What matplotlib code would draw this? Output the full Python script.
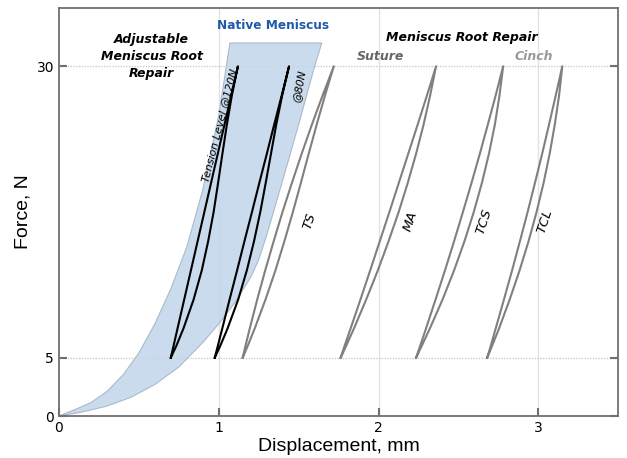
import matplotlib
matplotlib.use('Agg')
import matplotlib.pyplot as plt

# force levels at which loop branches were read
force = [5, 6, 7.5, 10, 12.5, 15, 17.5, 20, 22.5, 25, 27.5, 30]

# native meniscus band (upper/left and lower/right boundary)
band_upper_x = [0, 0.1, 0.2, 0.3, 0.4, 0.5, 0.6, 0.7, 0.8, 0.9, 1.0, 1.07]
band_upper_y = [0, 0.55, 1.15, 2.1, 3.5, 5.4, 7.9, 10.9, 14.5, 19.4, 25.8, 32]
band_lower_x = [0, 0.15, 0.3, 0.45, 0.6, 0.75, 0.9, 1.0, 1.1, 1.2, 1.25, 1.3, 1.4, 1.5, 1.6, 1.645]
band_lower_y = [0, 0.35, 0.85, 1.6, 2.7, 4.2, 6.3, 7.9, 9.7, 11.9, 13.4, 15.5, 20.2, 25.0, 30.0, 32]

# hysteresis loops: unloading (left) and loading (right) branches
loop_names = ['120N', '80N', 'TS', 'MA', 'TCS', 'TCL']
loop_left = [
    [0.70, 0.717, 0.742, 0.784, 0.826, 0.868, 0.91, 0.952, 0.994, 1.036, 1.078, 1.12],
    [0.975, 0.994, 1.022, 1.068, 1.115, 1.161, 1.208, 1.254, 1.301, 1.347, 1.394, 1.44],
    [1.15, 1.167, 1.194, 1.241, 1.291, 1.344, 1.399, 1.458, 1.519, 1.583, 1.650, 1.72],
    [1.763, 1.787, 1.825, 1.887, 1.948, 2.008, 2.068, 2.127, 2.186, 2.245, 2.303, 2.36],
    [2.235, 2.260, 2.297, 2.357, 2.416, 2.473, 2.528, 2.582, 2.634, 2.684, 2.733, 2.78],
    [2.68, 2.702, 2.733, 2.785, 2.836, 2.885, 2.933, 2.979, 3.024, 3.067, 3.109, 3.15],
]
loop_right = [
    [0.70, 0.734, 0.779, 0.843, 0.894, 0.934, 0.968, 0.996, 1.023, 1.051, 1.082, 1.12],
    [0.975, 1.009, 1.055, 1.122, 1.176, 1.221, 1.260, 1.294, 1.327, 1.360, 1.397, 1.44],
    [1.15, 1.181, 1.225, 1.293, 1.355, 1.411, 1.464, 1.514, 1.563, 1.613, 1.665, 1.72],
    [1.763, 1.797, 1.846, 1.923, 1.996, 2.063, 2.126, 2.183, 2.235, 2.282, 2.323, 2.36],
    [2.235, 2.270, 2.321, 2.401, 2.473, 2.538, 2.596, 2.647, 2.691, 2.728, 2.757, 2.78],
    [2.68, 2.710, 2.754, 2.821, 2.883, 2.939, 2.989, 3.033, 3.071, 3.103, 3.130, 3.15],
]
loop_colors = ['black', 'black', '#808080', '#808080', '#808080', '#808080']

x_ticks = [0, 1, 2, 3]
y_ticks = [0, 5, 30]

ann = ['DejaVu Sans']
fig = plt.figure(figsize=(6.27, 4.58), dpi=100)
ax = fig.add_axes([0.094, 0.0917, 0.892, 0.8908])
ax.set_xlim(0, 3.5)
ax.set_ylim(0, 35)

# grid
for xv in x_ticks[1:]:
    ax.axvline(xv, color='#e2e2e2', lw=1, zorder=0)
for yv in y_ticks[1:]:
    ax.axhline(yv, color='#cccccc', lw=1, ls=(0, (1, 1)), zorder=0)

# band
poly_x = band_upper_x + band_lower_x[::-1]
poly_y = band_upper_y + band_lower_y[::-1]
ax.fill(poly_x, poly_y, facecolor='#c4d7eb', edgecolor='#a7b4c2', lw=0.8, alpha=0.9, zorder=1)

for i in range(len(loop_names)):
    xs = loop_right[i] + loop_left[i][::-1]
    ys = force + force[::-1]
    ax.plot(xs, ys, color=loop_colors[i], lw=1.5, zorder=3, solid_joinstyle='round')

# texts
ax.text(0.58, 30.8, 'Adjustable\nMeniscus Root\nRepair', ha='center', va='center',
        fontsize=9, fontweight='bold', style='italic', family=ann, linespacing=1.4)
ax.text(1.34, 33.5, 'Native Meniscus', ha='center', va='center', color='#1f5ba8',
        fontsize=8.7, fontweight='bold', family=ann)
ax.text(2.52, 32.5, 'Meniscus Root Repair', ha='center', va='center',
        fontsize=9, fontweight='bold', style='italic', family=ann)
ax.text(2.01, 30.8, 'Suture', ha='center', va='center', color='#666666',
        fontsize=9, fontweight='bold', style='italic', family=ann)
ax.text(2.97, 30.8, 'Cinch', ha='center', va='center', color='#999999',
        fontsize=9, fontweight='bold', style='italic', family=ann)
ax.text(1.005, 24.9, 'Tension Level @120N', ha='center', va='center', rotation=75.5,
        fontsize=7.8, style='italic', family=ann, zorder=4)
ax.text(1.506, 28.3, '@80N', ha='center', va='center', rotation=80,
        fontsize=7.8, style='italic', family=ann, zorder=4)
for name, xv in zip(['TS', 'MA', 'TCS', 'TCL'], [1.57, 2.2, 2.66, 3.04]):
    ax.text(xv, 16.7, name, ha='center', va='center', rotation=72,
            fontsize=9.5, style='italic', family=ann, zorder=4)

# axes styling
ax.set_xticks(x_ticks)
ax.set_yticks(y_ticks)
ax.tick_params(direction='in', length=6, width=1.5, color='#707070', labelsize=10,
               right=True, top=False)
for lab in ax.get_xticklabels() + ax.get_yticklabels():
    lab.set_family(ann)
for sp in ax.spines.values():
    sp.set_color('#707070')
    sp.set_linewidth(1.3)
ax.set_xlabel('Displacement, mm', fontsize=14, family=['Liberation Sans'], labelpad=2)
ax.set_ylabel('Force, N', fontsize=14, family=['Liberation Sans'], labelpad=4)

fig.savefig('out.png', dpi=100)
